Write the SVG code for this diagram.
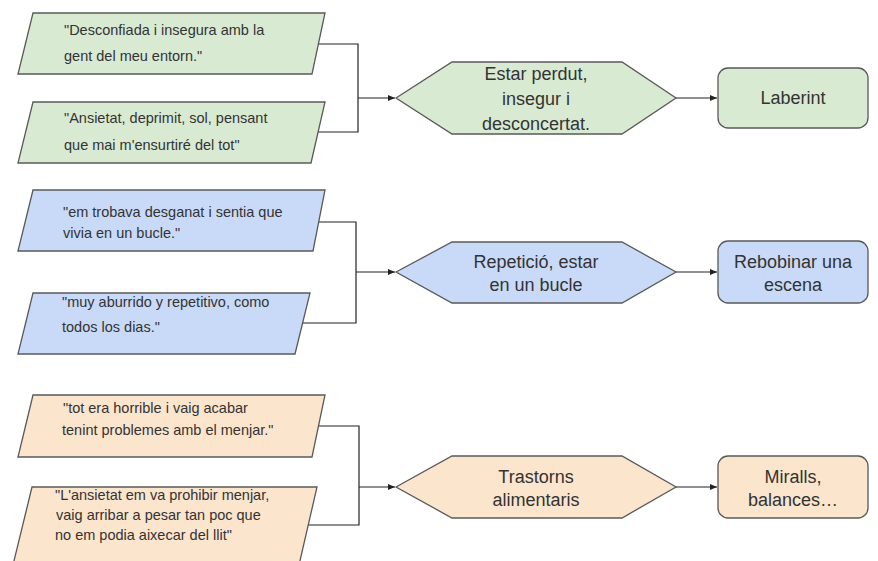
<svg xmlns="http://www.w3.org/2000/svg" width="878" height="561" viewBox="0 0 878 561">
<style>
.g{fill:#d9ead3}.b{fill:#c9daf8}.o{fill:#fce5cd}
.sh{stroke:#595959;stroke-width:1.3}
.q{font-family:"Liberation Sans",Arial,sans-serif;font-size:14.5px;fill:#333}
.t{font-family:"Liberation Sans",Arial,sans-serif;font-size:18px;fill:#333;text-anchor:middle}
.c{fill:none;stroke:#222;stroke-width:1.2}
</style>
<defs>
<marker id="ah" markerWidth="8" markerHeight="8" refX="7" refY="4" orient="auto" markerUnits="userSpaceOnUse">
<path d="M0,1 L7,4 L0,7 Z" fill="#222"/>
</marker>
</defs>
<rect width="878" height="561" fill="#fff"/>
<g id="connectors">
<polyline class="c" points="318,44 358,44 358,98"/>
<polyline class="c" points="318,132 358,132 358,98"/>
<line class="c" x1="358" y1="98" x2="395" y2="98" marker-end="url(#ah)"/>
<line class="c" x1="676" y1="98" x2="717" y2="98" marker-end="url(#ah)"/>
<polyline class="c" points="319,222 356,222 356,272"/>
<polyline class="c" points="302,323 356,323 356,272"/>
<line class="c" x1="356" y1="272" x2="395" y2="272" marker-end="url(#ah)"/>
<line class="c" x1="676" y1="272" x2="717" y2="272" marker-end="url(#ah)"/>
<polyline class="c" points="318,426 359,426 359,487"/>
<polyline class="c" points="308,525 359,525 359,487"/>
<line class="c" x1="359" y1="487" x2="395" y2="487" marker-end="url(#ah)"/>
<line class="c" x1="676" y1="487" x2="717" y2="487" marker-end="url(#ah)"/>
</g>
<g id="q1a"><polygon class="g sh" points="33,13 325,13 312,74 18,74"/>
<text class="q" x="64" y="35">"Desconfiada i insegura amb la</text>
<text class="q" x="64" y="61">gent del meu entorn."</text></g>
<g id="q1b"><polygon class="g sh" points="33,102 325,102 311,163 18,163"/>
<text class="q" x="64" y="123">"Ansietat, deprimit, sol, pensant</text>
<text class="q" x="64" y="150">que mai m'ensurtiré del tot"</text></g>
<g id="h1"><polygon class="g sh" points="396,98 452,62 622,62 676,98 622,134 452,134"/>
<text class="t" x="536" y="80">Estar perdut,</text>
<text class="t" x="536" y="105">insegur i</text>
<text class="t" x="536" y="130">desconcertat.</text></g>
<g id="r1"><rect class="g sh" x="718" y="68" width="150" height="60" rx="10"/>
<text class="t" x="793" y="104">Laberint</text></g>

<g id="q2a"><polygon class="b sh" points="33,190 325,190 313,251 18,251"/>
<text class="q" x="63" y="217">"em trobava desganat i sentia que</text>
<text class="q" x="63" y="238">vivia en un bucle."</text></g>
<g id="q2b"><polygon class="b sh" points="33,293 310,293 295,354 18,354"/>
<text class="q" x="62" y="307">"muy aburrido y repetitivo, como</text>
<text class="q" x="62" y="332">todos los dias."</text></g>
<g id="h2"><polygon class="b sh" points="396,272 452,242 622,242 676,272 622,303 452,303"/>
<text class="t" x="536" y="268">Repetició, estar</text>
<text class="t" x="536" y="291">en un bucle</text></g>
<g id="r2"><rect class="b sh" x="718" y="241" width="150" height="62" rx="10"/>
<text class="t" x="793" y="268">Rebobinar una</text>
<text class="t" x="793" y="291">escena</text></g>

<g id="q3a"><polygon class="o sh" points="33,395 325,395 312,457 18,457"/>
<text class="q" x="63" y="413">"tot era horrible i vaig acabar</text>
<text class="q" x="62" y="435">tenint problemes amb el menjar."</text></g>
<g id="q3b"><polygon class="o sh" points="32,487 317,487 299,565 13,565"/>
<text class="q" x="55" y="500">"L'ansietat em va prohibir menjar,</text>
<text class="q" x="56" y="520">vaig arribar a pesar tan poc que</text>
<text class="q" x="55" y="540">no em podia aixecar del llit"</text></g>
<g id="h3"><polygon class="o sh" points="396,487 452,456 622,456 676,487 622,518 452,518"/>
<text class="t" x="536" y="483">Trastorns</text>
<text class="t" x="536" y="506">alimentaris</text></g>
<g id="r3"><rect class="o sh" x="718" y="456" width="150" height="62" rx="10"/>
<text class="t" x="793" y="483">Miralls,</text>
<text class="t" x="793" y="506">balances…</text></g>
</svg>
